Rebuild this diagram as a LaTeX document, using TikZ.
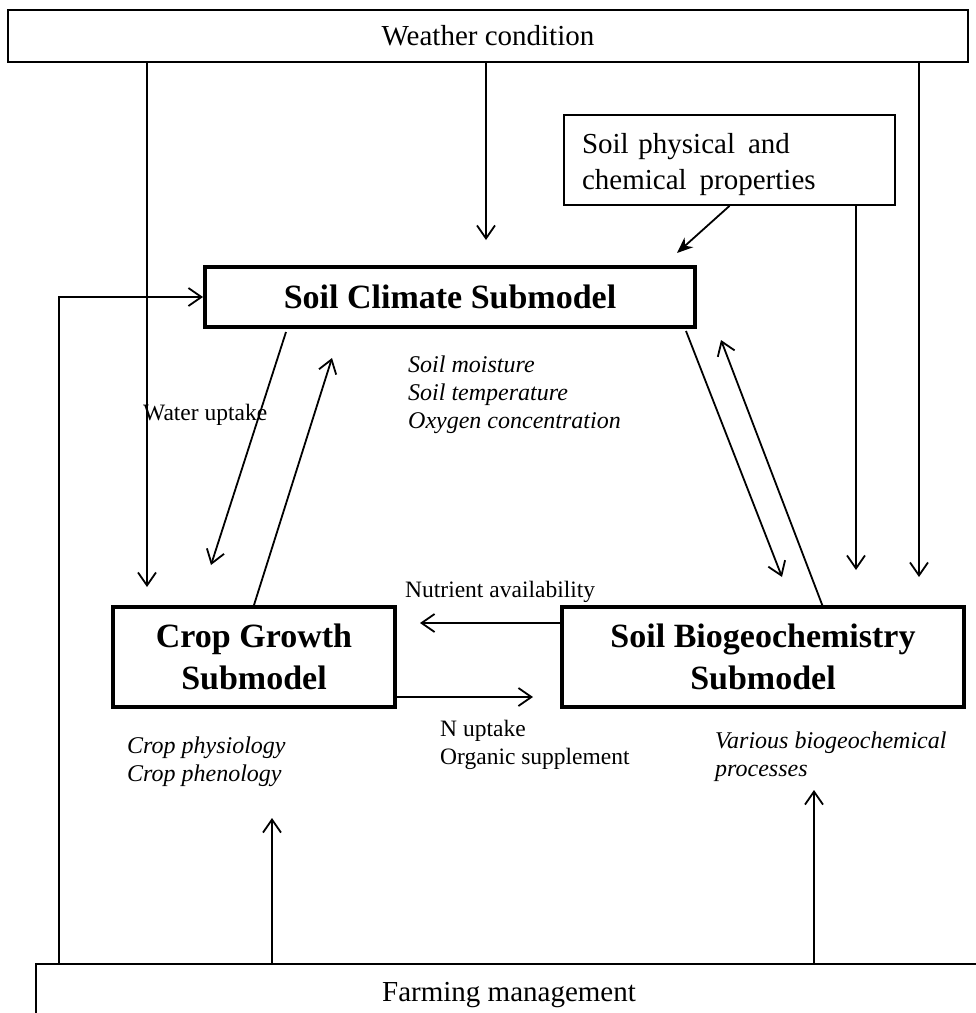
\documentclass[tikz,border=0pt]{standalone}
\usepackage{fontspec}
\setmainfont{Liberation Serif}
\usetikzlibrary{arrows.meta}
\tikzset{
  big/.style={font=\fontsize{29}{36}\selectfont},
  lab/.style={font=\fontsize{23.5}{28}\selectfont, inner sep=0pt},
  ital/.style={font=\fontsize{24}{28}\selectfont\itshape, inner sep=0pt, align=left},
  subbox/.style={draw, line width=4pt, font=\fontsize{34}{42}\selectfont\bfseries, align=center, inner sep=0pt},
  thinbox/.style={draw, line width=1.8pt, inner sep=0pt},
  arr/.style={line width=1.8pt, -{Straight Barb[length=13pt,width=18pt,line width=1.8pt]}},
  farr/.style={line width=1.8pt, -{Stealth[length=16pt,width=13pt]}},
}
\begin{document}
\begin{tikzpicture}[x=1pt,y=-1pt]
\clip (0,0) rectangle (976,1013);
\fill[white] (0,0) rectangle (976,1013);

% boxes
\node[thinbox, big, minimum width=960pt, minimum height=52pt] (weather) at (488,36) {Weather condition};
\node[thinbox, big, minimum width=331pt, minimum height=90pt, text width=295pt, align=left, inner xsep=18pt] (soilphys) at (729.5,160) {\rule{0pt}{30pt}Soil physical\hspace{0.45em}and\\chemical\hspace{0.45em}properties};
\node[subbox, minimum width=490pt, minimum height=60pt] (climate) at (450,297) {Soil Climate Submodel};
\node[subbox, minimum width=282pt, minimum height=100pt] (crop) at (254,657) {Crop Growth\\Submodel};
\node[subbox, minimum width=402pt, minimum height=100pt] (bio) at (763,657) {Soil Biogeochemistry\\Submodel};
\node[thinbox, big, minimum width=946pt, minimum height=62pt] (farming) at (509,995) {Farming management};

% labels
\node[lab, anchor=base west] (wu) at (143,420) {Water uptake};
\node[lab, anchor=base west] (nut) at (405,597) {Nutrient availability};
\node[lab, anchor=north west, align=left, font=\fontsize{23.5}{28}\selectfont] (nup) at (440,720) {N uptake\\Organic supplement};
\node[ital, anchor=north west] (clim) at (408,356) {Soil moisture\\Soil temperature\\Oxygen concentration};
\node[ital, anchor=north west] (cropl) at (127,737) {Crop physiology\\Crop phenology};
\node[ital, anchor=north west] (biol) at (715,732) {Various biogeochemical\\processes};

% coordinates for free ends
\coordinate (wA) at (147,587);
\coordinate (wB) at (486,240);
\coordinate (wC) at (919,577);
\coordinate (spA) at (677,253);
\coordinate (spB) at (856,570);
\coordinate (fA) at (59,964);
\coordinate (fB) at (272,818);
\coordinate (fC) at (814,790);
\coordinate (wuS) at (286,332);
\coordinate (wuE) at (211,565);
\coordinate (cgE) at (332,358);
\coordinate (kS) at (686,331);
\coordinate (kE) at (782,577);
\coordinate (lS) at (823,607);
\coordinate (lE) at (721,340);
\coordinate (nutE) at (420,623);
\coordinate (nuE) at (533,697);

% connectors
\draw[arr] (weather.south -| wA) -- (wA);
\draw[arr] (weather.south -| wB) -- (wB);
\draw[arr] (weather.south -| wC) -- (wC);
\draw[farr] (soilphys.south) -- (spA);
\draw[arr] (soilphys.south -| spB) -- (spB);
\draw[arr] (farming.north -| fA) |- (climate.west);
\draw[arr] (farming.north -| fB) -- (fB);
\draw[arr] (farming.north -| fC) -- (fC);
\draw[arr] (wuS) -- (wuE);
\draw[arr] (crop.north) -- (cgE);
\draw[arr] (kS) -- (kE);
\draw[arr] (lS) -- (lE);
\draw[arr] (bio.west |- nutE) -- (nutE);
\draw[arr] (crop.east |- nuE) -- (nuE);
\end{tikzpicture}
\end{document}
